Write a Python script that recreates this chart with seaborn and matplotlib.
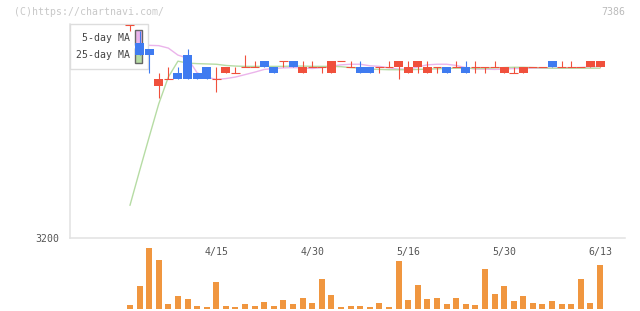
import numpy as np
import pandas as pd
import seaborn as sns
import matplotlib.pyplot as plt
from matplotlib.patches import Patch

# daily candles (yen), oldest first
opens = [3550, 3520, 3510, 3450, 3460, 3470, 3500, 3470, 3480, 3460,
         3470, 3470, 3480, 3480, 3490, 3480, 3490, 3490, 3470, 3480,
         3480, 3470, 3490, 3480, 3480, 3480, 3480, 3480, 3480, 3470,
         3480, 3470, 3480, 3480, 3480, 3480, 3480, 3480, 3480, 3470,
         3470, 3470, 3480, 3480, 3490, 3480, 3480, 3480, 3480, 3480]
highs = [3550, 3540, 3510, 3470, 3480, 3480, 3510, 3470, 3480, 3480,
         3480, 3480, 3500, 3490, 3490, 3480, 3490, 3490, 3490, 3490,
         3480, 3490, 3490, 3490, 3490, 3480, 3480, 3490, 3490, 3490,
         3490, 3490, 3480, 3480, 3490, 3490, 3490, 3480, 3490, 3480,
         3480, 3480, 3480, 3480, 3490, 3490, 3490, 3480, 3490, 3490]
lows = [3540, 3500, 3470, 3430, 3460, 3460, 3460, 3460, 3460, 3440,
        3470, 3470, 3480, 3480, 3480, 3470, 3480, 3480, 3470, 3480,
        3470, 3470, 3490, 3480, 3470, 3470, 3470, 3480, 3460, 3470,
        3470, 3470, 3470, 3470, 3480, 3470, 3470, 3470, 3480, 3470,
        3470, 3470, 3480, 3480, 3480, 3480, 3480, 3480, 3480, 3480]
closes = [3550, 3500, 3500, 3460, 3460, 3460, 3460, 3460, 3460, 3460,
          3480, 3470, 3480, 3480, 3480, 3470, 3490, 3480, 3480, 3480,
          3480, 3490, 3490, 3480, 3470, 3470, 3480, 3480, 3490, 3480,
          3490, 3480, 3480, 3470, 3480, 3470, 3480, 3480, 3480, 3480,
          3470, 3480, 3480, 3480, 3480, 3480, 3480, 3480, 3490, 3490]
volumes = [3700, 22700, 60700, 48700, 4700, 12700, 9700, 2700, 1700, 26700,
           2700, 1700, 4700, 2700, 6700, 2700, 8700, 4700, 10700, 5700,
           29700, 13700, 1700, 2700, 2700, 1700, 5700, 1700, 47700, 8700,
           23700, 9700, 10700, 4700, 10700, 4700, 3700, 39700, 14700, 22700,
           7700, 12700, 5700, 4700, 7700, 4700, 4700, 29700, 5700, 43700]
ma5 = [3518, 3516, 3516, 3515.5, 3511.5, 3500, 3495, 3471, 3464, 3460,
       3461.5, 3464, 3468, 3472, 3476.5, 3478, 3479, 3479.5, 3479, 3478,
       3479.5, 3482, 3484, 3485, 3485, 3482.5, 3481.5, 3479, 3477, 3477,
       3480.5, 3484, 3485, 3485, 3483, 3479.5, 3477, 3477, 3476.5, 3477,
       3478, 3478, 3478.5, 3478.5, 3478.5, 3478.5, 3479, 3479.5, 3480.5, 3481.5]
ma25 = [3253.5, 3310, 3365.5, 3420, 3464, 3490, 3487, 3486, 3485.5, 3485,
        3483, 3482, 3481.5, 3481.5, 3481.5, 3481.5, 3481.5, 3482, 3482, 3481.5,
        3481.5, 3481.5, 3481, 3479.5, 3478.5, 3477, 3476.5, 3476, 3476, 3476,
        3476.5, 3477, 3477.5, 3478, 3478.5, 3478.5, 3478, 3478, 3479, 3479.5,
        3480, 3480, 3479.5, 3479, 3478.5, 3478.5, 3478.5, 3478.5, 3478.5, 3478.5]
date_labels = ["4/15", "4/30", "5/16", "5/30", "6/13"]
date_label_pos = [9, 19, 29, 39, 49]

df = pd.DataFrame({"open": opens, "high": highs, "low": lows, "close": closes,
                   "volume": volumes, "ma5": ma5, "ma25": ma25})
df["idx"] = np.arange(len(df))
df["up"] = df["close"] >= df["open"]

RED = "#f0503c"
BLUE = "#3f7bf0"
PINK = "#ebb4eb"
GREEN = "#b6dca4"
ORANGE = "#f0963f"
GRID = "#e2e2e2"

sns.set_style("white")
plt.rcParams["font.family"] = ["DejaVu Sans Mono", "DejaVu Sans"]

fig = plt.figure(figsize=(6.4, 3.11), dpi=100)
ax = fig.add_axes([70 / 640, 73 / 311, 555 / 640, 214 / 311])
vax = fig.add_axes([70 / 640, 2.3 / 311, 555 / 640, 63.7 / 311])

xmin, xmax = -6.25, 51.6

# moving averages
sns.lineplot(data=df, x="idx", y="ma5", ax=ax, color=PINK, lw=1.0, zorder=2)
sns.lineplot(data=df, x="idx", y="ma25", ax=ax, color=GREEN, lw=1.0, zorder=2)

# candles
w = 0.93
for up, col in [(True, RED), (False, BLUE)]:
    d = df[df["up"] == up]
    ax.vlines(d["idx"], d["low"], d["high"], color=col, lw=0.8, zorder=6)
    body = d[d["open"] != d["close"]]
    ax.bar(body["idx"], (body["close"] - body["open"]).abs(),
           bottom=body[["open", "close"]].min(axis=1), width=w,
           color=col, lw=0, zorder=7)
    doji = d[d["open"] == d["close"]]
    ax.hlines(doji["close"], doji["idx"] - w / 2, doji["idx"] + w / 2,
              color=col, lw=0.8, zorder=7)

ax.set_xlim(xmin, xmax)
ax.set_ylim(3200, 3551)
ax.set_xlabel("")
ax.set_ylabel("")
ax.set_yticks([3200])
ax.set_yticklabels(["3200"])
ax.set_xticks(np.linspace(xmin, xmax, 11))
ax.set_xticklabels([])
ax.tick_params(axis="y", length=0, pad=7.5, labelsize=7.1, labelcolor="#555555")
ax.tick_params(axis="x", direction="inout", length=6, width=1.1, color=GRID)
for s in ["top", "right"]:
    ax.spines[s].set_visible(False)
for s in ["left", "bottom"]:
    ax.spines[s].set_color(GRID)
    ax.spines[s].set_linewidth(1.1)

for pos, lab in zip(date_label_pos, date_labels):
    ax.text(pos, -0.066, lab, transform=ax.get_xaxis_transform(),
            ha="center", va="center", fontsize=7.1, color="#555555")

handles = [Patch(facecolor=PINK, edgecolor="#666666", lw=1.0),
           Patch(facecolor=GREEN, edgecolor="#666666", lw=1.0)]
leg = ax.legend(handles, ["5-day MA", "25-day MA"], loc="upper left",
                bbox_to_anchor=(0, 1), borderaxespad=0, markerfirst=False,
                fontsize=7.1, handlelength=0.7, handleheight=2.0,
                handletextpad=0.55, labelspacing=0.25, borderpad=0.6,
                fancybox=False, framealpha=1, edgecolor="#dddddd",
                labelcolor="#444444")
leg.get_frame().set_linewidth(1.0)
leg.set_zorder(5)

# volume panel
sns.barplot(data=df, x="idx", y="volume", ax=vax, native_scale=True,
            color=ORANGE, width=0.625, saturation=1, lw=0)
vax.set_xlim(xmin, xmax)
vax.set_ylim(0, 63700)
vax.set_axis_off()

fig.text(14 / 640, 1 - 12 / 311, "(C)https://chartnavi.com/", fontsize=7.1,
         color="#c8c8c8", va="center", ha="left")
fig.text(625 / 640, 1 - 12 / 311, "7386", fontsize=7.1, color="#bbbbbb",
         va="center", ha="right")

fig.savefig("out.png", dpi=100)
